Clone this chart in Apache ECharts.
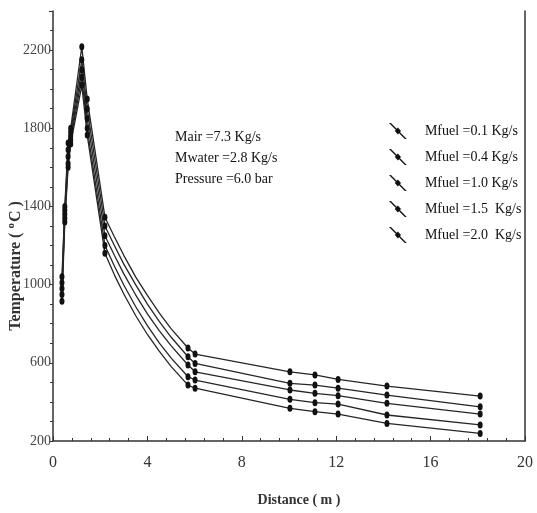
<!DOCTYPE html>
<html>
<head>
<meta charset="utf-8">
<script src="https://cdn.jsdelivr.net/npm/echarts@6/dist/echarts.min.js"></script>
<style>html,body{margin:0;padding:0;background:#fff}#c{width:537px;height:513px}</style>
</head>
<body>
<div id="c"></div>
<script>
// Distance (m) of each read point, shared by all series
const distance = [0.38, 0.5, 0.64, 0.75, 1.22, 1.45, 2.2, 2.6, 3.0, 3.5, 4.0, 4.5, 5.0, 5.72, 6.02, 10.04, 11.1, 12.08, 14.15, 18.1];
// 1 = point drawn with a marker in the reference, 0 = curve point only
const marked = [1, 1, 1, 1, 1, 1, 1, 0, 0, 0, 0, 0, 0, 1, 1, 1, 1, 1, 1, 1];
// Temperatures (°C)
const tempFuel01 = [915, 1320, 1600, 1720, 2020, 1765, 1160, 1050, 952, 842, 745, 660, 582, 486, 470, 367, 350, 338, 290, 239];
const tempFuel04 = [950, 1340, 1620, 1740, 2060, 1800, 1200, 1095, 998, 888, 790, 702, 625, 529, 512, 413, 396, 389, 333, 282];
const tempFuel10 = [980, 1360, 1655, 1760, 2100, 1850, 1250, 1150, 1055, 948, 850, 765, 688, 589, 554, 461, 444, 432, 393, 338];
const tempFuel15 = [1010, 1380, 1690, 1780, 2150, 1900, 1300, 1200, 1105, 1000, 900, 812, 732, 631, 597, 495, 486, 470, 435, 375];
const tempFuel20 = [1040, 1400, 1725, 1800, 2217, 1950, 1345, 1245, 1150, 1040, 945, 855, 775, 676, 645, 554, 538, 515, 481, 430];
const seriesNames = ['Mfuel =0.1 Kg/s', 'Mfuel =0.4 Kg/s', 'Mfuel =1.0 Kg/s', 'Mfuel =1.5  Kg/s', 'Mfuel =2.0  Kg/s'];
const seriesTemps = [tempFuel01, tempFuel04, tempFuel10, tempFuel15, tempFuel20];
const xTicks = [0, 4, 8, 12, 16, 20];
const yTicks = [200, 600, 1000, 1400, 1800, 2200];
const annotation = ['Mair =7.3 Kg/s', 'Mwater =2.8 Kg/s', 'Pressure =6.0 bar'];

const FONT = '"Liberation Serif", "Times New Roman", serif';
const legendIcon = 'path://M0,0 L2.2,0 L20,18 L17.8,18 Z M6.5,9 L10,5 L13.5,9 L10,13 Z';

const chart = echarts.init(document.getElementById('c'), null, {renderer: 'canvas'});

const series = seriesNames.map((name, i) => ({
  name: name,
  type: 'line',
  smooth: false,
  symbol: 'circle',
  symbolSize: [5, 7],
  showAllSymbol: true,
  lineStyle: {color: '#262626', width: 1.3},
  itemStyle: {color: '#111'},
  emphasis: {disabled: true},
  data: distance.map((d, j) => marked[j] ? [d, seriesTemps[i][j]] : {value: [d, seriesTemps[i][j]], symbol: 'none'})
}));

chart.setOption({
  backgroundColor: '#fff',
  animation: false,
  grid: {left: 53, right: 12, top: 11, bottom: 72, outerBoundsMode: 'none', containLabel: false},
  legend: {
    orient: 'vertical',
    left: 384,
    top: 118,
    itemWidth: 18,
    itemHeight: 16,
    itemGap: 10,
    icon: legendIcon,
    data: seriesNames,
    textStyle: {fontFamily: FONT, fontSize: 14, color: '#111', padding: [0, 0, 0, 13]}
  },
  xAxis: {
    type: 'value',
    min: 0, max: 20, interval: 4,
    name: 'Distance ( m )',
    nameLocation: 'middle',
    nameGap: 52,
    nameMoveOverlap: false,
    nameTextStyle: {fontFamily: FONT, fontSize: 14, fontWeight: 'bold', color: '#333', padding: [0, 0, 0, 20]},
    axisLine: {lineStyle: {color: '#333', width: 1.5}},
    axisTick: {inside: true, length: 5, lineStyle: {color: '#333'}},
    minorTick: {show: true, splitNumber: 5, length: 3, lineStyle: {color: '#333'}},
    splitLine: {show: false},
    axisLabel: {fontFamily: FONT, fontSize: 16, color: '#333', margin: 14,
      formatter: v => xTicks.includes(v) ? String(v) : ''}
  },
  yAxis: [{
    type: 'value',
    min: 200, max: 2400, interval: 400,
    name: 'Temperature ( {sup|o}C )',
    nameLocation: 'middle',
    nameGap: 28,
    nameMoveOverlap: false,
    nameTextStyle: {fontFamily: FONT, fontSize: 16, fontWeight: 'bold', color: '#333', padding: [0, 80, 0, 0],
      rich: {sup: {fontFamily: FONT, fontSize: 11, fontWeight: 'bold', color: '#333', verticalAlign: 'top', padding: [0, 1, 8, 0]}}},
    axisLine: {lineStyle: {color: '#333', width: 1.5}},
    axisTick: {inside: false, length: 4, lineStyle: {color: '#333'}},
    minorTick: {show: true, splitNumber: 4, length: 3, lineStyle: {color: '#333'}},
    splitLine: {show: false},
    axisLabel: {fontFamily: FONT, fontSize: 14, color: '#444', margin: 2,
      formatter: v => yTicks.includes(v) ? String(v) : ''}
  }, {
    type: 'value',
    position: 'right',
    min: 200, max: 2400,
    axisLine: {show: true, lineStyle: {color: '#333', width: 1.5}},
    axisTick: {show: false},
    axisLabel: {show: false},
    splitLine: {show: false}
  }],
  graphic: [{
    type: 'text',
    left: 175,
    top: 127,
    style: {
      text: annotation.join('\n'),
      font: '14px ' + FONT,
      lineHeight: 21,
      fill: '#111'
    }
  }],
  series: series
});
</script>
</body>
</html>
